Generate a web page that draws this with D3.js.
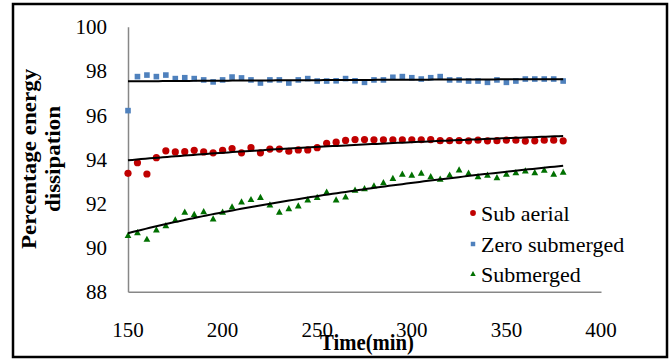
<!DOCTYPE html>
<html>
<head>
<meta charset="utf-8">
<script src="https://cdn.jsdelivr.net/npm/d3@7/dist/d3.min.js"></script>
<style>
  html, body { margin: 0; padding: 0; background: #fff; }
  svg { display: block; }
</style>
</head>
<body>
<svg id="chart" width="672" height="359"></svg>
<script>
// ---------- data ----------
const times = [150,155,160,165,170,175,180,185,190,195,200,205,210,215,220,225,230,235,240,245,250,255,260,265,270,275,280,285,290,295,300,305,310,315,320,325,330,335,340,345,350,355,360,365,370,375,380];

const subAerial = [93.36,93.84,93.33,94.07,94.38,94.33,94.34,94.40,94.33,94.29,94.40,94.48,94.29,94.52,94.29,94.46,94.46,94.36,94.42,94.42,94.52,94.72,94.77,94.85,94.89,94.89,94.88,94.88,94.88,94.88,94.88,94.88,94.89,94.84,94.84,94.84,94.83,94.86,94.83,94.84,94.86,94.86,94.82,94.83,94.86,94.86,94.83];

const zeroSubmerged = [96.20,97.74,97.81,97.74,97.81,97.65,97.69,97.65,97.59,97.50,97.59,97.72,97.68,97.59,97.45,97.59,97.59,97.45,97.59,97.65,97.54,97.54,97.55,97.65,97.55,97.48,97.59,97.59,97.71,97.74,97.69,97.63,97.69,97.74,97.59,97.59,97.54,97.54,97.48,97.59,97.48,97.54,97.63,97.63,97.63,97.63,97.54];

const submerged = [90.54,90.67,90.37,90.79,90.99,91.25,91.60,91.50,91.62,91.29,91.60,91.84,92.06,92.17,92.27,91.93,91.60,91.76,91.88,92.15,92.27,92.51,92.15,92.29,92.59,92.66,92.79,92.93,93.13,93.32,93.27,93.36,93.21,93.09,93.28,93.51,93.36,93.21,93.27,93.16,93.32,93.39,93.47,93.39,93.50,93.32,93.41];

const xTicks = [150,200,250,300,350,400];
const yTicks = [88,90,92,94,96,98,100];
const seriesNames = ["Sub aerial","Zero submerged","Submerged"];
const xTitle = "Time(min)";
const yTitleLines = ["Percentage energy","dissipation"];

// ---------- setup ----------
const FONT = "Liberation Serif";
const svg = d3.select("#chart");

const x = d3.scaleLinear().domain([150, 400]).range([128, 601]);
const y = d3.scaleLinear().domain([88, 100]).range([291.7, 26.7]);

const series = [
  {name: seriesNames[0], values: subAerial, color: "#C00000", shape: "circle"},
  {name: seriesNames[1], values: zeroSubmerged, color: "#4F81BD", shape: "square"},
  {name: seriesNames[2], values: submerged, color: "#007000", shape: "triangle"}
];

// outer border
svg.append("rect")
  .attr("x", 13).attr("y", 4).attr("width", 654).attr("height", 353)
  .attr("fill", "none").attr("stroke", "#000").attr("stroke-width", 2.5);

// plain (regular) text, no transform
function addText(px, py, str, opts) {
  opts = opts || {};
  return svg.append("text")
    .attr("x", px).attr("y", py)
    .attr("font-family", FONT)
    .attr("font-size", opts.size || 21)
    .attr("text-anchor", opts.anchor || "start")
    .attr("fill", "#000")
    .text(str);
}
// bold title text, horizontally compressed like the reference
function addTitle(px, py, str, rotate) {
  const g = svg.append("g")
    .attr("transform", `translate(${px},${py}) scale(0.9,1)` + (rotate ? ` rotate(${rotate})` : ""));
  return g.append("text")
    .attr("font-family", FONT)
    .attr("font-size", 23)
    .attr("font-weight", "bold")
    .attr("text-anchor", "middle")
    .attr("fill", "#000")
    .text(str);
}

// axes (lines only, no ticks)
const axisColor = "#878787";
const yAxis = d3.axisLeft(y).tickValues(yTicks).tickSize(0).tickFormat("");
const xAxis = d3.axisBottom(x).tickValues(xTicks).tickSize(0).tickFormat("");
const gy = svg.append("g").attr("transform", `translate(${x(150)},0)`).call(yAxis);
const gx = svg.append("g").attr("transform", `translate(0,${y(88)})`).call(xAxis);
[gx, gy].forEach(g => {
  g.select(".domain").attr("stroke", axisColor).attr("stroke-width", 1.5);
});

// tick labels
yTicks.forEach(v => addText(107, y(v) + 7.5, String(v), {anchor: "end"}));
xTicks.forEach(v => addText(x(v), 337, String(v), {anchor: "middle"}));

// markers
function drawMarker(g, shape, cx, cy, color, s) {
  if (shape === "circle") {
    g.append("circle").attr("cx", cx).attr("cy", cy).attr("r", 3.6 * s).attr("fill", color);
  } else if (shape === "square") {
    const w = 5.6 * s;
    g.append("rect").attr("x", cx - w / 2).attr("y", cy - w / 2).attr("width", w).attr("height", w).attr("fill", color);
  } else {
    const w = 6.8 * s, h = 6.2 * s;
    g.append("path")
      .attr("d", `M${cx},${cy - h * 0.6}L${cx + w / 2},${cy + h * 0.4}L${cx - w / 2},${cy + h * 0.4}Z`)
      .attr("fill", color);
  }
}

const gPts = svg.append("g");
series.forEach(s => {
  s.values.forEach((v, i) => drawMarker(gPts, s.shape, x(times[i]), y(v), s.color, 1));
});

// logarithmic trend lines (least squares fit of y = a + b ln t)
function logFit(ts, vs) {
  const n = ts.length;
  const lx = ts.map(Math.log);
  const mx = d3.mean(lx), my = d3.mean(vs);
  let sxy = 0, sxx = 0;
  for (let i = 0; i < n; i++) { sxy += (lx[i] - mx) * (vs[i] - my); sxx += (lx[i] - mx) ** 2; }
  const b = sxy / sxx, a = my - b * mx;
  return t => a + b * Math.log(t);
}
const line = d3.line().x(d => x(d[0])).y(d => y(d[1]));
const t0 = d3.min(times), t1 = d3.max(times);
const samples = d3.range(0, 101).map(k => t0 + (t1 - t0) * k / 100);
series.forEach(s => {
  const f = logFit(times, s.values);
  svg.append("path")
    .attr("d", line(samples.map(t => [t, f(t)])))
    .attr("fill", "none").attr("stroke", "#000").attr("stroke-width", 2);
});

// legend
const legendY = [213, 244, 274];
const gLeg = svg.append("g");
series.forEach((s, i) => {
  drawMarker(gLeg, s.shape, 473, legendY[i], s.color, 0.8);
  addText(481, legendY[i] + 7.5, s.name, {size: 22});
});

// axis titles
addTitle(367, 350, xTitle);
addTitle(36, 159, yTitleLines[0], -90);
addTitle(60, 159, yTitleLines[1], -90);
</script>
</body>
</html>
